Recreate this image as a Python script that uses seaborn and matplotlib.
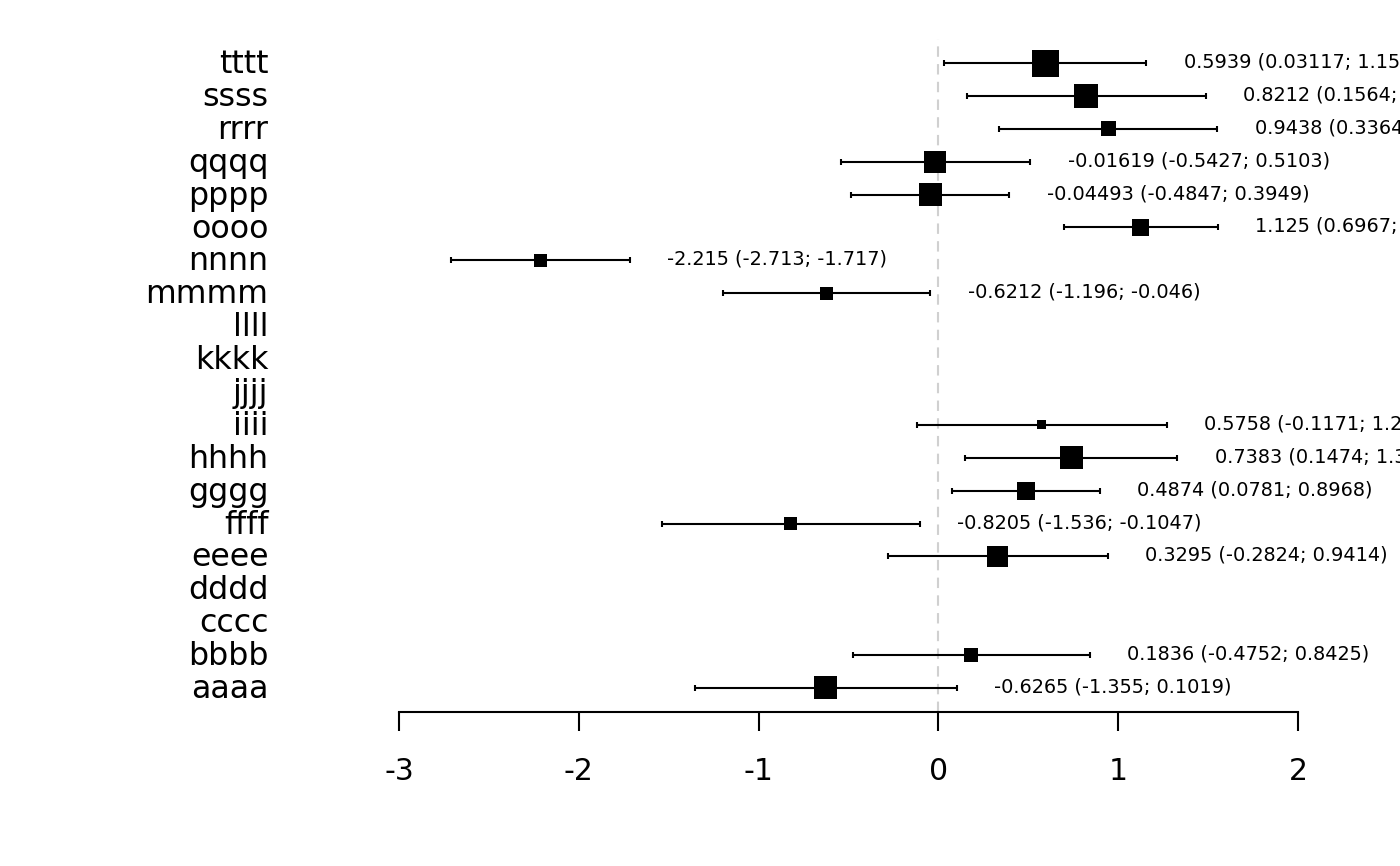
"""
Forest plot: estimations ponctuelles et intervalles de confiance par etude.
"""

import numpy as np
import pandas as pd
import matplotlib
matplotlib.use("Agg")
import matplotlib.pyplot as plt
import seaborn as sns

# Donnees (du bas vers le haut)
etudes = ["aaaa", "bbbb", "cccc", "dddd", "eeee", "ffff", "gggg", "hhhh", "iiii", "jjjj",
          "kkkk", "llll", "mmmm", "nnnn", "oooo", "pppp", "qqqq", "rrrr", "ssss", "tttt"]
estimation = [-0.6265, 0.1836, np.nan, np.nan, 0.3295, -0.8205, 0.4874, 0.7383, 0.5758, np.nan,
              np.nan, np.nan, -0.6212, -2.215, 1.125, -0.04493, -0.01619, 0.9438, 0.8212, 0.5939]
borne_inf = [-1.355, -0.4752, np.nan, np.nan, -0.2824, -1.536, 0.0781, 0.1474, -0.1171, np.nan,
             np.nan, np.nan, -1.196, -2.713, 0.6967, -0.4847, -0.5427, 0.3364, 0.1564, 0.03117]
borne_sup = [0.1019, 0.8425, np.nan, np.nan, 0.9414, -0.1047, 0.8968, 1.329, 1.269, np.nan,
             np.nan, np.nan, -0.046, -1.717, 1.553, 0.3949, 0.5103, 1.551, 1.486, 1.157]
# poids relatif de chaque etude (cote du carre)
poids = [23, 14, np.nan, np.nan, 21, 13, 18, 23, 9, np.nan,
         np.nan, np.nan, 13, 13, 17, 23, 22, 15, 24, 27]

W, H = 1400, 866


def fmt(v):
    return f"{v:.4g}"


def main():
    df = pd.DataFrame({
        "etude": etudes,
        "est": estimation,
        "lo": borne_inf,
        "hi": borne_sup,
        "poids": poids,
    })
    df["rang"] = np.arange(1, len(df) + 1)
    ok = df.dropna()

    sns.set_style("white")
    plt.rcParams["font.family"] = ["DejaVu Sans"]
    plt.rcParams["text.color"] = "black"
    plt.rcParams["xtick.color"] = "black"
    plt.rcParams["ytick.color"] = "black"

    fig = plt.figure(figsize=(W / 100, H / 100), dpi=100)
    ax = fig.add_axes([399 / W, (H - 712) / H, 899 / W, (712 - 39) / H])

    # ligne de reference en 0
    ax.axvline(0, color="#d0d0d0", lw=1.5, ls=(0, (5, 3.5)), zorder=0)

    # intervalles de confiance
    ax.errorbar(ok["est"], ok["rang"],
                xerr=[ok["est"] - ok["lo"], ok["hi"] - ok["est"]],
                fmt="none", ecolor="black", elinewidth=1.5, capsize=2.5, capthick=1.5,
                zorder=2)

    # carres proportionnels au poids
    tailles = {p: (p * 0.72) ** 2 for p in ok["poids"].unique()}
    sns.scatterplot(data=ok, x="est", y="rang", size="poids", sizes=tailles,
                    marker="s", color="black", edgecolor="none", legend=False,
                    ax=ax, zorder=3)

    # textes a droite
    for _, row in ok.iterrows():
        txt = f"{fmt(row['est'])} ({fmt(row['lo'])}; {fmt(row['hi'])})"
        ax.text(row["hi"] + 0.208, row["rang"] + 0.03, txt, fontsize=13.9, va="center",
                ha="left", color="black", clip_on=False)

    ax.set_xlim(-3, 2)
    ax.set_ylim(0.27, 20.73)
    ax.set_xticks([-3, -2, -1, 0, 1, 2])
    ax.set_xticklabels(["-3", "-2", "-1", "0", "1", "2"])
    ax.set_yticks(df["rang"] + 0.06)
    ax.set_yticklabels(df["etude"])
    ax.set_xlabel("")
    ax.set_ylabel("")

    for s in ["top", "right", "left"]:
        ax.spines[s].set_visible(False)
    ax.spines["bottom"].set_linewidth(1.5)
    ax.spines["bottom"].set_color("black")
    ax.tick_params(axis="x", direction="out", length=14, width=1.5, pad=18.5,
                   labelsize=21.5, bottom=True, color="black", labelcolor="black")
    ax.tick_params(axis="y", length=0, pad=94, labelsize=22.8, labelcolor="black")

    fig.savefig("out.png", dpi=100)
    plt.close(fig)


if __name__ == "__main__":
    main()
